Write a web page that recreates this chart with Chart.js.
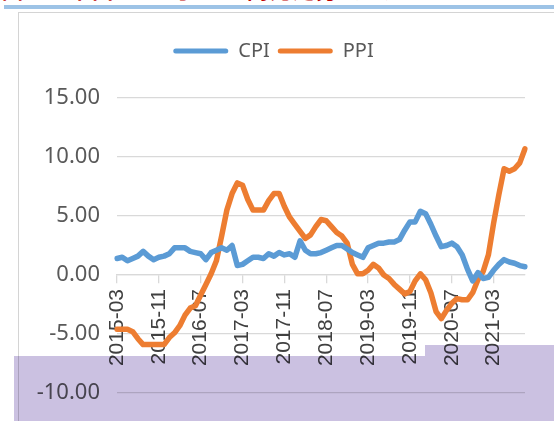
<!DOCTYPE html>
<html>
<head>
<meta charset="utf-8">
<script src="https://cdn.jsdelivr.net/npm/chart.js@4.4.3/dist/chart.umd.min.js"></script>
<style>
  html, body { margin: 0; padding: 0; background: #fff; }
  body { width: 554px; height: 421px; position: relative; overflow: hidden; }
  #caption { position: absolute; left: 2px; top: -21px; line-height: 21px; font-family: "Noto Sans CJK SC", sans-serif; font-weight: bold; font-size: 21px; color: #c00000; white-space: nowrap; letter-spacing: 2px; }
  #rule { position: absolute; left: 4px; top: 5px; width: 560px; height: 4px; background: #9dc3e6; }
  #frame { position: absolute; left: 18px; top: 12px; width: 600px; height: 500px; border: 1.5px solid #d4d4d4; box-sizing: border-box; }
  #wrap { position: absolute; left: 0; top: 0; width: 554px; height: 421px; }
  .shade { position: absolute; background: #cbc1e1; mix-blend-mode: multiply; }
</style>
</head>
<body>
<div id="caption">图 6：中国 CPI 与 PPI 同比走势（%）</div>
<div id="rule"></div>
<div id="frame"></div>
<div id="wrap"><canvas id="chart" width="554" height="421"></canvas></div>
<div class="shade" style="left:14px; top:356px; width:411px; height:70px;"></div>
<div class="shade" style="left:425px; top:345px; width:140px; height:80px;"></div>
<script>
// monthly YoY, 2015-03 .. 2021-09
const months = [
  '2015-03','2015-04','2015-05','2015-06','2015-07','2015-08','2015-09','2015-10','2015-11','2015-12',
  '2016-01','2016-02','2016-03','2016-04','2016-05','2016-06','2016-07','2016-08','2016-09','2016-10','2016-11','2016-12',
  '2017-01','2017-02','2017-03','2017-04','2017-05','2017-06','2017-07','2017-08','2017-09','2017-10','2017-11','2017-12',
  '2018-01','2018-02','2018-03','2018-04','2018-05','2018-06','2018-07','2018-08','2018-09','2018-10','2018-11','2018-12',
  '2019-01','2019-02','2019-03','2019-04','2019-05','2019-06','2019-07','2019-08','2019-09','2019-10','2019-11','2019-12',
  '2020-01','2020-02','2020-03','2020-04','2020-05','2020-06','2020-07','2020-08','2020-09','2020-10','2020-11','2020-12',
  '2021-01','2021-02','2021-03','2021-04','2021-05','2021-06','2021-07','2021-08','2021-09'
];
const cpi = [
  1.4, 1.5, 1.2, 1.4, 1.6, 2.0, 1.6, 1.3, 1.5, 1.6,
  1.8, 2.3, 2.3, 2.3, 2.0, 1.9, 1.8, 1.3, 1.9, 2.1, 2.3, 2.1,
  2.5, 0.8, 0.9, 1.2, 1.5, 1.5, 1.4, 1.8, 1.6, 1.9, 1.7, 1.8,
  1.5, 2.9, 2.1, 1.8, 1.8, 1.9, 2.1, 2.3, 2.5, 2.5, 2.2, 1.9,
  1.7, 1.5, 2.3, 2.5, 2.7, 2.7, 2.8, 2.8, 3.0, 3.8, 4.5, 4.5,
  5.4, 5.2, 4.3, 3.3, 2.4, 2.5, 2.7, 2.4, 1.7, 0.5, -0.5, 0.2,
  -0.3, -0.2, 0.4, 0.9, 1.3, 1.1, 1.0, 0.8, 0.7
];
const ppi = [
  -4.6, -4.6, -4.6, -4.8, -5.4, -5.9, -5.9, -5.9, -5.9, -5.9,
  -5.3, -4.9, -4.3, -3.4, -2.8, -2.6, -1.7, -0.8, 0.1, 1.2, 3.3, 5.5,
  6.9, 7.8, 7.6, 6.4, 5.5, 5.5, 5.5, 6.3, 6.9, 6.9, 5.8, 4.9,
  4.3, 3.7, 3.1, 3.4, 4.1, 4.7, 4.6, 4.1, 3.6, 3.3, 2.7, 0.9,
  0.1, 0.1, 0.4, 0.9, 0.6, 0.0, -0.3, -0.8, -1.2, -1.6, -1.4, -0.5,
  0.1, -0.4, -1.5, -3.1, -3.7, -3.0, -2.4, -2.0, -2.1, -2.1, -1.5, -0.4,
  0.3, 1.7, 4.4, 6.8, 9.0, 8.8, 9.0, 9.5, 10.7
];
const seriesNames = ['CPI', 'PPI'];
const seriesColors = ['#5b9bd5', '#ed7d31'];
const yTicks = [15, 10, 5, 0, -5, -10];
const labelEvery = 8;

// push the plot down below the legend
const legendGap = {
  id: 'legendGap',
  beforeInit(chart) {
    const fit = chart.legend.fit;
    chart.legend.fit = function () {
      fit.bind(chart.legend)();
      this.height += 27;
    };
  }
};

const datasets = [cpi, ppi].map((data, i) => ({
  label: seriesNames[i],
  data: data,
  borderColor: seriesColors[i],
  backgroundColor: seriesColors[i],
  borderWidth: 5.5,
  pointRadius: 0,
  tension: 0,
  borderJoinStyle: 'round',
  borderCapStyle: 'round',
  fill: false
}));

new Chart(document.getElementById('chart'), {
  type: 'line',
  data: { labels: months, datasets: datasets },
  plugins: [legendGap],
  options: {
    responsive: false,
    animation: false,
    layout: { padding: { top: 33, left: 22, right: 29, bottom: 28 } },
    plugins: {
      legend: {
        display: true,
        position: 'top',
        labels: {
          boxWidth: 55,
          boxHeight: 5,
          useBorderRadius: true,
          borderRadius: 2.5,
          padding: 8,
          color: '#595959',
          font: { family: 'Noto Sans', size: 20 },
          generateLabels: chart => Chart.defaults.plugins.legend.labels.generateLabels(chart)
            .map(l => ({ ...l, lineWidth: 0, fillStyle: l.strokeStyle }))
        }
      },
      tooltip: { enabled: false }
    },
    scales: {
      x: {
        position: { y: 0 },
        offset: false,
        afterFit: s => { s.paddingTop = 0; s.paddingBottom = 0; },
        grid: { drawOnChartArea: false, drawTicks: true, tickLength: 8, color: '#d9d9d9', lineWidth: 1.3 },
        border: { display: true, color: '#d9d9d9', width: 1.3 },
        ticks: {
          autoSkip: false,
          minRotation: 90,
          maxRotation: 90,
          padding: 6,
          color: '#404040',
          font: { family: 'Liberation Sans', size: 21 },
          callback: function (value, index) {
            return index % labelEvery === 0 ? months[index] : null;
          }
        }
      },
      y: {
        min: -10,
        max: 15,
        afterFit: s => { s.width = 95; s.paddingTop = 0; s.paddingBottom = 0; },
        afterBuildTicks: s => { s.ticks = yTicks.map(v => ({ value: v })); },
        grid: { drawTicks: false, color: '#d9d9d9', lineWidth: 1.3 },
        border: { display: false },
        ticks: {
          padding: 17,
          color: '#595959',
          font: { family: 'Noto Sans', size: 22 },
          callback: v => v.toFixed(2)
        }
      }
    }
  }
});
</script>
</body>
</html>
